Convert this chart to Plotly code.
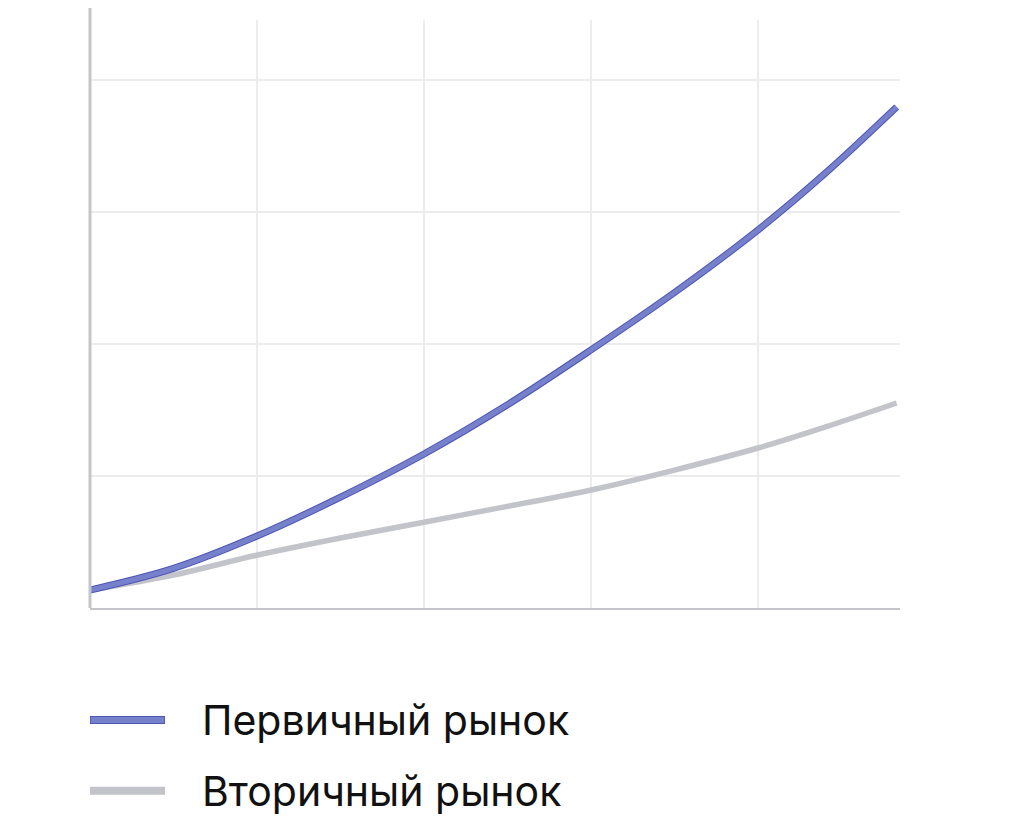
import plotly.graph_objects as go

# Data (x in grid units, y in grid units)
x_vals = [0.0, 0.5, 1.0, 1.5, 2.0, 2.5, 3.0, 3.5, 4.0, 4.4, 4.83]
primary = [0.136, 0.30, 0.545, 0.84, 1.167, 1.54, 1.955, 2.39, 2.864, 3.29, 3.795]
secondary = [0.136, 0.25, 0.40, 0.53, 0.65, 0.77, 0.894, 1.045, 1.212, 1.37, 1.553]
series_names = ["Первичный рынок", "Вторичный рынок"]
colors = ["#7780cb", "#c2c4ca"]
edge_color = "#4b56b6"

fig = go.Figure()
fig.add_trace(go.Scatter(x=x_vals, y=secondary, mode="lines", name=series_names[1],
                         line=dict(color=colors[1], width=5.5, shape="spline", smoothing=1.0),
                         showlegend=False))
fig.add_trace(go.Scatter(x=x_vals, y=primary, mode="lines", name=series_names[0] + " edge",
                         line=dict(color=edge_color, width=7, shape="spline", smoothing=1.0),
                         showlegend=False, hoverinfo="skip"))
fig.add_trace(go.Scatter(x=x_vals, y=primary, mode="lines", name=series_names[0],
                         line=dict(color=colors[0], width=5, shape="spline", smoothing=1.0),
                         showlegend=False))

# left axis line extending above the plot
fig.add_shape(type="line", xref="paper", yref="paper", x0=0, x1=0, y0=0, y1=1.03,
              line=dict(color="#c3c5ca", width=3), layer="above")

# manual legend
legend_y = [-0.1905, -0.311]
for name, col, ly in zip(series_names, colors, legend_y):
    if col == colors[0]:
        fig.add_shape(type="line", xref="paper", yref="paper", x0=0.0, x1=0.0926, y0=ly, y1=ly,
                      line=dict(color=edge_color, width=8))
        fig.add_shape(type="line", xref="paper", yref="paper", x0=0.001, x1=0.0916, y0=ly, y1=ly,
                      line=dict(color=col, width=6))
    else:
        fig.add_shape(type="line", xref="paper", yref="paper", x0=0.0, x1=0.0926, y0=ly, y1=ly,
                      line=dict(color=col, width=8))
    fig.add_annotation(xref="paper", yref="paper", x=0.1358, y=ly, text=name, showarrow=False,
                       xanchor="left", yanchor="middle",
                       font=dict(family="Inter, Noto Sans, sans-serif", size=41, color="#111111"))

fig.update_layout(
    width=1024, height=823,
    margin=dict(l=82, r=132, t=12, b=223),
    paper_bgcolor="white", plot_bgcolor="white",
    showlegend=False,
)
fig.update_xaxes(range=[0, 4.85], tickvals=[1, 2, 3, 4], showticklabels=False,
                 showgrid=True, gridcolor="#ececee", gridwidth=2, zeroline=False,
                 showline=True, linecolor="#c3c5ca", linewidth=2, ticks="")
fig.update_yaxes(range=[0, 4.4545], tickvals=[1, 2, 3, 4], showticklabels=False,
                 showgrid=True, gridcolor="#ececee", gridwidth=2, zeroline=False,
                 showline=False, ticks="")

fig.write_html("out.html")
